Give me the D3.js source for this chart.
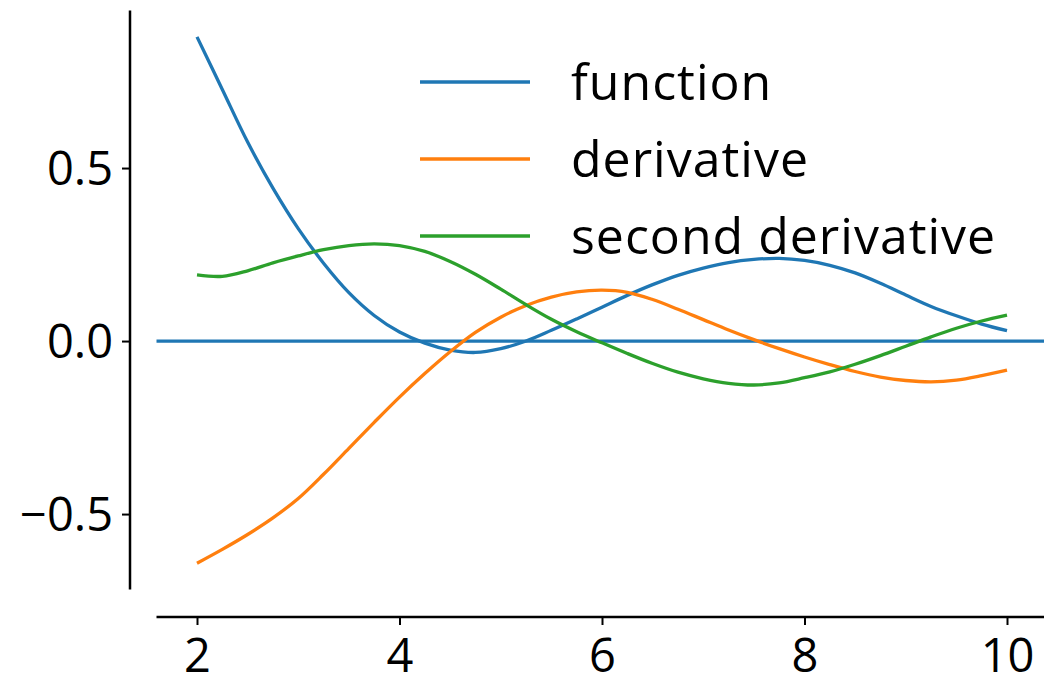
<!DOCTYPE html>
<html>
<head>
<meta charset="utf-8">
<script src="https://cdn.jsdelivr.net/npm/d3@7"></script>
<style>
  body { margin: 0; background: #fff; }
  svg { display: block; }
  .tick text { font-family: "Open Sans", "Noto Sans", sans-serif; font-size: 47px; fill: #000; }
  .legend text { font-family: "Open Sans", "Noto Sans", sans-serif; font-size: 50px; letter-spacing: 1px; fill: #000; }
</style>
</head>
<body>
<svg width="1044" height="678"></svg>
<script>
// sampled x positions
var xs = [2, 2.25, 2.5, 2.75, 3, 3.25, 3.5, 3.75, 4, 4.25, 4.5, 4.75, 5, 5.25, 5.5, 5.75,
          6, 6.25, 6.5, 6.75, 7, 7.25, 7.5, 7.75, 8, 8.25, 8.5, 8.75, 9, 9.25, 9.5, 9.75, 10];

var functionValues = [0.879, 0.727, 0.575, 0.442, 0.325, 0.225, 0.140, 0.074, 0.026, -0.006,
    -0.026, -0.033, -0.022, 0.000, 0.031, 0.064, 0.098, 0.132, 0.163, 0.190, 0.211, 0.227,
    0.236, 0.239, 0.233, 0.219, 0.197, 0.167, 0.133, 0.100, 0.073, 0.049, 0.030];

var derivativeValues = [-0.642, -0.602, -0.559, -0.511, -0.455, -0.385, -0.310, -0.235,
    -0.162, -0.094, -0.031, 0.025, 0.069, 0.103, 0.127, 0.142, 0.147, 0.141, 0.120, 0.092,
    0.062, 0.032, 0.004, -0.022, -0.046, -0.068, -0.088, -0.104, -0.114, -0.118, -0.113,
    -0.100, -0.084];

var secondValues = [0.191, 0.187, 0.203, 0.226, 0.246, 0.264, 0.276, 0.281, 0.276, 0.259,
    0.230, 0.193, 0.150, 0.105, 0.063, 0.027, -0.005, -0.036, -0.065, -0.090, -0.109, -0.122,
    -0.127, -0.121, -0.106, -0.089, -0.067, -0.042, -0.015, 0.012, 0.037, 0.058, 0.075];

var seriesNames = ["function", "derivative", "second derivative"];
var colors = ["#1f77b4", "#ff7f0e", "#2ca02c"];
var xTicks = [2, 4, 6, 8, 10];
var yTicks = [-0.5, 0.0, 0.5];

var svg = d3.select("svg");

var x = d3.scaleLinear().domain([1.6, 10.4]).range([156.5, 1047.5]);
var y = d3.scaleLinear().domain([-0.718, 0.955]).range([589.5, 10.6]);

var series = [functionValues, derivativeValues, secondValues].map(function (vals, i) {
    return {
        name: seriesNames[i],
        color: colors[i],
        points: xs.map(function (xv, j) { return [xv, vals[j]]; })
    };
});

// y axis, offset to the left
var yAxis = svg.append("g")
    .attr("transform", "translate(130,0)")
    .call(d3.axisLeft(y).tickValues(yTicks).tickFormat(d3.format(".1f")).tickSize(8).tickPadding(9));
yAxis.select(".domain").attr("d", "M0," + y.range()[0] + "V" + y.range()[1]).attr("stroke-width", 2.5);
yAxis.selectAll(".tick line").attr("stroke-width", 2);
yAxis.selectAll(".tick text").attr("dy", "0.36em");

// x axis, offset below
var xAxis = svg.append("g")
    .attr("transform", "translate(0,617)")
    .call(d3.axisBottom(x).tickValues(xTicks).tickFormat(d3.format("d")).tickSize(8));
xAxis.select(".domain").attr("d", "M" + x.range()[0] + ",0H" + x.range()[1]).attr("stroke-width", 2.5);
xAxis.selectAll(".tick line").attr("stroke-width", 2);
xAxis.selectAll(".tick text").attr("y", 55).attr("dy", null);

// horizontal zero line
svg.append("line")
    .attr("x1", x.range()[0]).attr("x2", x.range()[1])
    .attr("y1", y(0)).attr("y2", y(0))
    .attr("stroke", colors[0])
    .attr("stroke-width", 3.3);

var line = d3.line()
    .x(function (d) { return x(d[0]); })
    .y(function (d) { return y(d[1]); })
    .curve(d3.curveCatmullRom);

svg.selectAll(".series")
    .data(series)
    .enter().append("path")
    .attr("class", "series")
    .attr("fill", "none")
    .attr("stroke", function (d) { return d.color; })
    .attr("stroke-width", 3.3)
    .attr("d", function (d) { return line(d.points); });

// legend
var legend = svg.append("g").attr("class", "legend");
var entry = legend.selectAll("g")
    .data(series)
    .enter().append("g")
    .attr("transform", function (d, i) { return "translate(420," + (82 + i * 77) + ")"; });
entry.append("line")
    .attr("x1", 0).attr("x2", 110)
    .attr("stroke", function (d) { return d.color; })
    .attr("stroke-width", 3.3);
entry.append("text")
    .attr("x", 151)
    .attr("dy", "0.36em")
    .text(function (d) { return d.name; });
</script>
</body>
</html>
